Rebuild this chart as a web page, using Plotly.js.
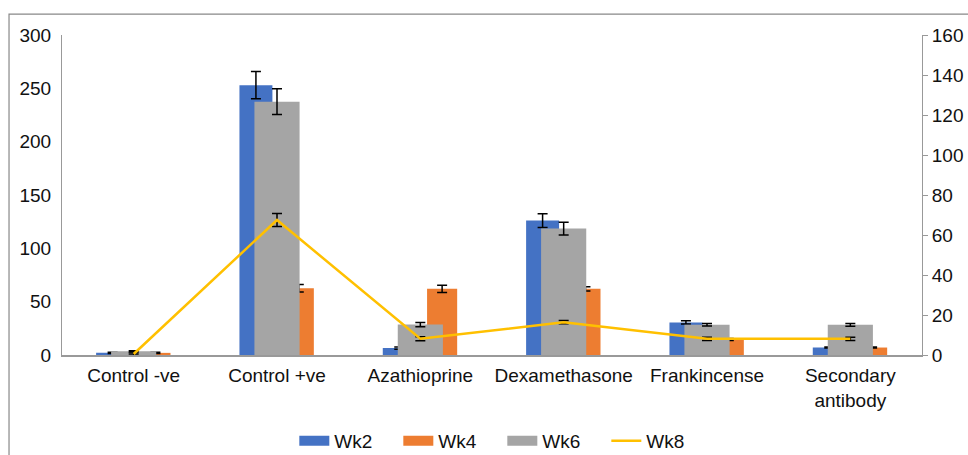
<!DOCTYPE html>
<html>
<head>
<meta charset="utf-8">
<script src="https://cdn.plot.ly/plotly-3.0.1.min.js"></script>
<style>html,body{margin:0;padding:0;background:#fff;}#chart{width:968px;height:455px;}</style>
</head>
<body>
<div id="chart"></div>
<script>
const categories = ["Control -ve", "Control +ve", "Azathioprine", "Dexamethasone", "Frankincense", "Secondary<br>antibody"];

const wk2 = [2, 253, 6.5, 126, 30.5, 7];
const wk2Err = [0.5, 12.8, 1, 6.4, 1.5, 0.5];

const wk4 = [2, 62.5, 62, 62, 14.5, 7];
const wk4Err = [0.5, 3.5, 3.5, 2, 1, 0.5];

const wk6 = [3.5, 237.5, 28.5, 118.5, 28.3, 28.3];
const wk6Err = [0.5, 12, 2, 6, 1.2, 1.3];

const wk8 = [0.5, 67.5, 8.1, 16.4, 8.1, 8.1];
const wk8Err = [0.5, 3.3, 1, 0.8, 0.8, 0.8];

const seriesNames = ["Wk2", "Wk4", "Wk6", "Wk8"];
const colors = ["#4472C4", "#ED7D31", "#A5A5A5", "#FFC000"];

const errStyle = (arr) => ({type: "data", array: arr, visible: true, color: "#000", thickness: 1.5, width: 5});

const barDefs = [
  {y: wk2, err: wk2Err, width: 0.23, offset: -0.262},
  {y: wk4, err: wk4Err, width: 0.21, offset: 0.047},
  {y: wk6, err: wk6Err, width: 0.315, offset: -0.1575}
];

const traces = [];
barDefs.forEach((d, i) => {
  traces.push({type: "bar", name: seriesNames[i], legendgroup: seriesNames[i], showlegend: false,
    x: categories, y: d.y, marker: {color: colors[i]}, width: d.width, offset: d.offset,
    error_y: errStyle(d.err)});
});
traces.push({type: "scatter", mode: "lines", name: seriesNames[3], x: categories, y: wk8, yaxis: "y2",
  line: {color: colors[3], width: 2.5}, error_y: errStyle(wk8Err), showlegend: false, legendgroup: seriesNames[3]});

// legend entries (wide rectangular swatches like the original)
barDefs.forEach((d, i) => {
  traces.push({type: "scatter", mode: "lines", name: seriesNames[i], legendgroup: seriesNames[i],
    x: [null], y: [null], line: {color: colors[i], width: 11}, hoverinfo: "skip"});
});
traces.push({type: "scatter", mode: "lines", name: seriesNames[3], legendgroup: seriesNames[3],
  x: [null], y: [null], yaxis: "y2", line: {color: colors[3], width: 2.5}, hoverinfo: "skip"});

const font = {family: "Liberation Sans, Arial, sans-serif", size: 19, color: "#111"};

const layout = {
  width: 968, height: 455,
  margin: {l: 62, r: 46, t: 35, b: 99.5},
  paper_bgcolor: "#fff", plot_bgcolor: "#fff",
  font: font,
  barmode: "overlay",
  showlegend: true,
  legend: {orientation: "h", x: 0.512, xanchor: "center", yref: "container", y: 0.031, yanchor: "middle",
           font: font, entrywidth: 59, entrywidthmode: "pixels", traceorder: "normal"},
  xaxis: {type: "category", showline: true, linecolor: "#999", linewidth: 1.5, showgrid: false,
          ticks: "", tickfont: font, zeroline: false, fixedrange: true, ticklabelstandoff: 3},
  yaxis: {range: [0, 300], dtick: 50, showline: true, linecolor: "#999", linewidth: 1,
          showgrid: false, zeroline: false, ticks: "", tickfont: font, ticklabelstandoff: 6},
  yaxis2: {range: [0, 160], dtick: 20, overlaying: "y", side: "right", showline: true,
           linecolor: "#999", linewidth: 1, showgrid: false, zeroline: false,
           ticks: "outside", ticklen: 5, tickcolor: "#999", tickfont: font},
  shapes: [
    {type: "rect", xref: "paper", yref: "paper", x0: -0.0616, x1: 1.07, y0: -0.35, y1: 1.0655,
     line: {color: "#888", width: 1.2}, fillcolor: "rgba(0,0,0,0)", layer: "below"}
  ]
};

Plotly.newPlot("chart", traces, layout, {displayModeBar: false, staticPlot: true});
</script>
</body>
</html>
